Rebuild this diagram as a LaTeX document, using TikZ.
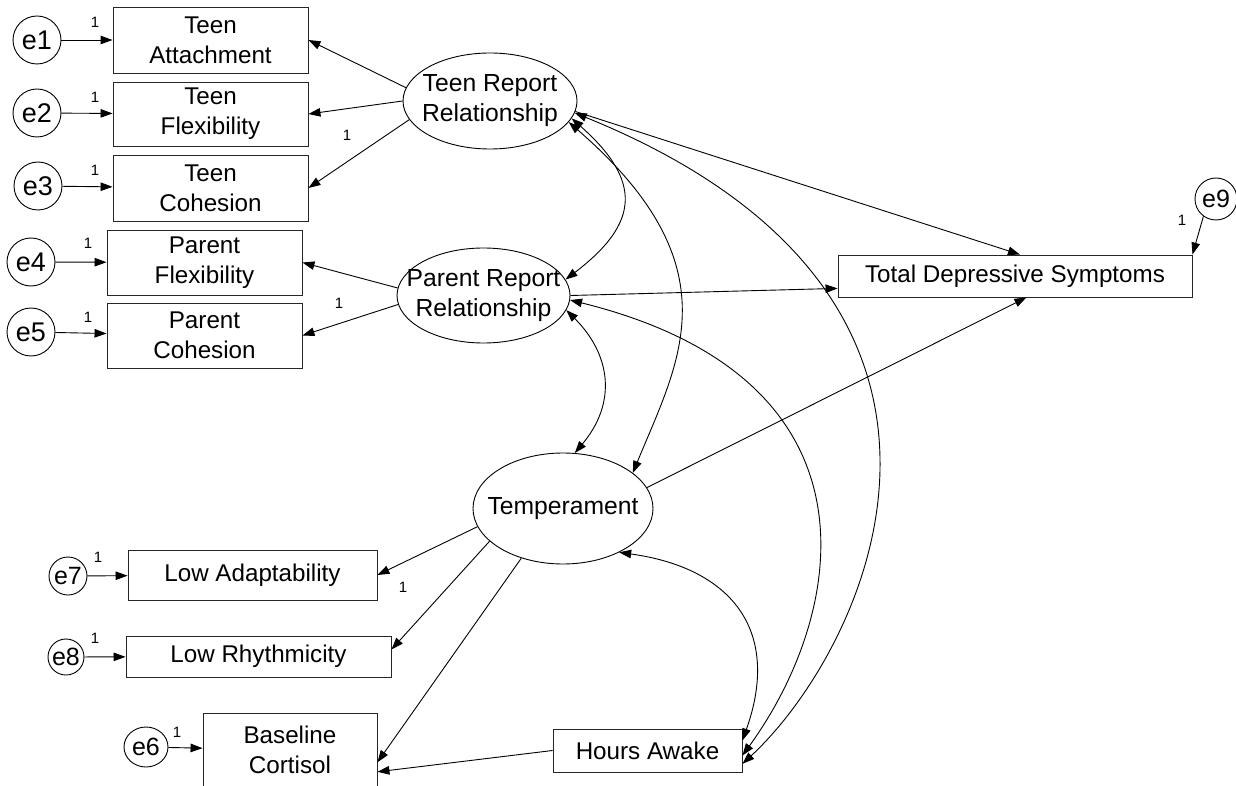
\documentclass[tikz,border=0pt]{standalone}
\usepackage{fontspec}
\setmainfont{Liberation Sans}
\usetikzlibrary{shapes.geometric,arrows.meta}
\begin{document}
\begin{tikzpicture}[x=1pt,y=-1pt,
  obs/.style={draw=black!85, line width=0.9pt, rectangle, inner sep=0pt, align=center, font=\fontsize{24.2}{30}\selectfont},
  lat/.style={draw, line width=0.9pt, ellipse, inner sep=-40pt, align=center, font=\fontsize{24.7}{30}\selectfont},
  err/.style={draw, line width=0.9pt, circle, inner sep=0pt, font=\fontsize{27}{30}\selectfont},
  errs/.style={draw, line width=0.9pt, circle, inner sep=0pt, font=\fontsize{25}{30}\selectfont},
  one/.style={font=\fontsize{15}{17}\selectfont, inner sep=0pt},
  pth/.style={line width=0.9pt, -{Triangle[length=12pt,width=8.5pt]}},
  cov/.style={line width=0.9pt, {Triangle[length=12pt,width=8.5pt]}-{Triangle[length=12pt,width=8.5pt]}},
]
\fill[white] (0,0) rectangle (1236,786);
\clip (0,0) rectangle (1236,786);

% error terms
\node[err, minimum size=48pt] (e1) at (37,40) {e1};
\node[err, minimum size=48pt] (e2) at (37,113) {e2};
\node[err, minimum size=48pt] (e3) at (38,186) {e3};
\node[err, minimum size=48pt] (e4) at (31,262) {e4};
\node[err, minimum size=48pt] (e5) at (31,332) {e5};
\node[errs, minimum size=38pt] (e7) at (68,576) {e7};
\node[errs, minimum size=36pt] (e8) at (66,657) {e8};
\node[errs, ellipse, minimum width=44pt, minimum height=40pt] (e6) at (146,747) {e6};
\node[errs, minimum size=42pt] (e9) at (1216,199) {e9};

% observed variables
\node[obs, minimum width=195pt, minimum height=66pt] (ta) at (210.5,40) {Teen\\Attachment};
\node[obs, minimum width=195pt, minimum height=64pt] (tf) at (210.5,114) {Teen\\Flexibility};
\node[obs, minimum width=195pt, minimum height=66pt] (tc) at (210.5,188) {Teen\\Cohesion};
\node[obs, minimum width=195pt, minimum height=65pt] (pf) at (204.5,262.5) {Parent\\Flexibility};
\node[obs, minimum width=195pt, minimum height=65pt] (pc) at (204.5,335.5) {Parent\\Cohesion};
\node[obs, minimum width=249pt, minimum height=50pt] (la) at (252.5,575) {Low Adaptability};
\node[obs, minimum width=265pt, minimum height=41pt] (lr) at (258.5,656.5) {Low Rhythmicity};
\node[obs, minimum width=174pt, minimum height=74pt] (bc) at (290,750) {Baseline\\Cortisol};
\node[obs, minimum width=189pt, minimum height=43pt] (ha) at (647.5,750.5) {Hours Awake};
\node[obs, minimum width=354pt, minimum height=42pt] (tds) at (1015,276) {Total Depressive Symptoms};

% latent variables
\node[lat, minimum width=174pt, minimum height=96pt] (trr) at (490,101) {Teen Report\\Relationship};
\node[lat, minimum width=173pt, minimum height=95pt] (prr) at (483.5,295.5) {Parent Report\\Relationship};
\node[lat, minimum width=180pt, minimum height=111pt] (temp) at (563,508.5) {Temperament};

% error paths
\draw[pth] (e1) -- (ta);
\draw[pth] (e2) -- (tf);
\draw[pth] (e3) -- (tc);
\draw[pth] (e4) -- (pf);
\draw[pth] (e5) -- (pc);
\draw[pth] (e7) -- (la);
\draw[pth] (e8) -- (lr);
\draw[pth] (e6) -- (bc);
\draw[pth] (e9.234) -- (tds.north east);

% loadings and regressions
\draw[pth] (trr.171) -- (ta.east);
\draw[pth] (trr.180) -- (tf.east);
\draw[pth] (trr.193) -- (tc.east);
\draw[pth] (prr.175) -- (pf.east);
\draw[pth] (prr.186) -- (pc.east);
\draw[pth] (temp.192) -- (la.east);
\draw[pth] (temp.204) -- (lr.3);
\draw[pth] (temp.230) -- (bc.-8);
\draw[pth] (ha.west) -- (bc.-14);
\draw[pth] (temp.14) -- (tds.-62);
\draw[pth] (trr.-7) -- (tds.77);
\draw[pth] (prr.east) -- (tds.184);

% covariances
\draw[cov] (trr.-12) .. controls +(70,62) and +(75,-57) .. (prr.11);
\draw[cov] (trr.-15) .. controls +(167,145) and +(46,-112) .. (temp.27);
\draw[cov] (trr.-8) .. controls +(461,187) and +(123,-114) .. (ha.-8);
\draw[cov] (prr.-3) .. controls +(320,79) and +(103,-142) .. (ha.-3);
\draw[cov] (prr.-10) .. controls +(45,45) and +(42,-50) .. (temp.78);
\draw[cov] (temp.-38) .. controls +(109,15) and +(40,-113) .. (ha.6);

% fixed parameter labels
\node[one] (n1) at (95,22) {1};
\node[one] (n2) at (95,97) {1};
\node[one] (n3) at (95,170) {1};
\node[one] (n4) at (347,135) {1};
\node[one] (n5) at (88,243) {1};
\node[one] (n6) at (88,317) {1};
\node[one] (n7) at (339,303) {1};
\node[one] (n8) at (98,557) {1};
\node[one] (n9) at (403,587) {1};
\node[one] (n10) at (95,638) {1};
\node[one] (n11) at (177,732) {1};
\node[one] (n12) at (1182,220) {1};
\end{tikzpicture}
\end{document}
